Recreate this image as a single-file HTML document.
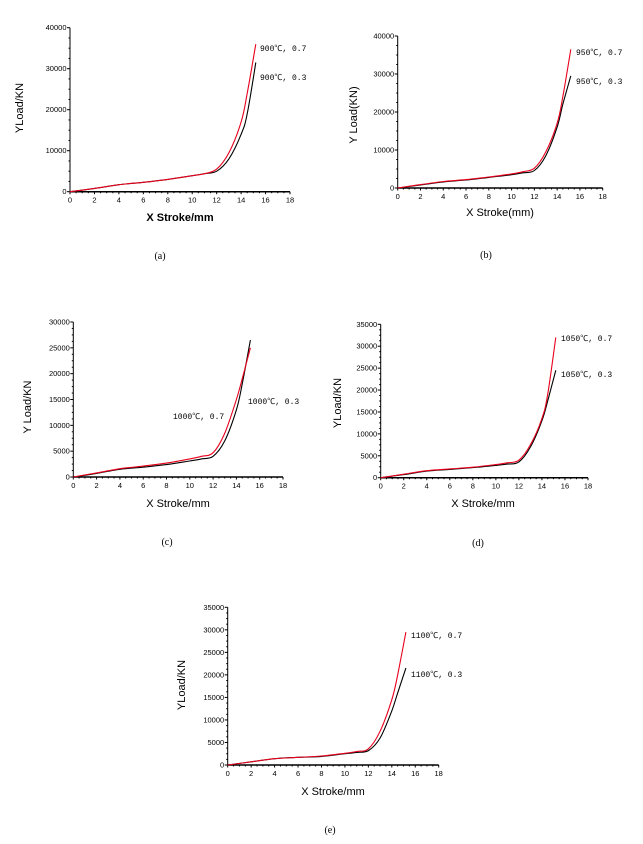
<!DOCTYPE html>
<html><head><meta charset="utf-8"><style>
html,body{margin:0;padding:0;background:#fff;}
svg{display:block;font-family:"Liberation Sans","Noto Sans CJK SC",sans-serif;}
.tk{font-size:7.5px;fill:#000;}
.ti{font-size:11px;fill:#000;}
.lb{font-family:"Liberation Mono","Noto Sans CJK SC",monospace;font-size:8px;fill:#000;}
.cap{font-family:"Liberation Serif",serif;font-size:10px;fill:#000;}
</style></head><body>
<svg id="chart" width="643" height="844" viewBox="0 0 643 844"></svg>
<script>
const xTicks=[0,2,4,6,8,10,12,14,16,18];
const panelIds=["a","b","c","d","e"];
const yMaxes=[40000,40000,30000,35000,35000];
const yStepsArr=[10000,10000,5000,5000,5000];
const temps=["900℃","950℃","1000℃","1050℃","1100℃"];
const strokeX=[0,2,4,6,8,10,11,12,13,14,14.5,15.2];
const redA=[0,800,1700,2300,3000,3900,4400,5500,9500,17000,24000,36000];
const blackA=[0,800,1700,2300,3000,3900,4400,5000,8000,14000,19000,31500];
const redB=[0,900,1700,2200,2900,3700,4300,5200,9500,17000,24000,36500];
const blackB=[0,800,1600,2100,2800,3500,4000,4600,8500,16000,22000,29500];
const redC=[0,800,1600,2100,2700,3500,4000,4700,8500,15000,19000,25000];
const blackC=[0,700,1500,1900,2400,3100,3500,4000,7000,13000,18000,26500];
const redD=[0,800,1600,2000,2400,3000,3400,4000,7500,13500,19000,32000];
const blackD=[0,700,1500,1900,2300,2800,3100,3600,7000,13000,17500,24500];
const redE=[0,700,1400,1700,2000,2600,3000,3600,7500,14500,20000,29500];
const blackE=[0,700,1400,1700,1900,2500,2800,3200,6000,12000,16000,21500];
const redSeries=[redA,redB,redC,redD,redE];
const blackSeries=[blackA,blackB,blackC,blackD,blackE];
const xTitles=["X Stroke/mm","X Stroke(mm)","X Stroke/mm","X Stroke/mm","X Stroke/mm"];
const yTitles=["YLoad/KN","Y Load(KN)","Y Load/KN","YLoad/KN","YLoad/KN"];
const L=[
 {x0:70,x1:290,y0:191.7,yT:27.7,xt:180,xty:221,bold:true,ytx:23,yty:108,cx:160,cy:259,l7:[260,51],l3:[260,80]},
 {x0:397.7,x1:602.7,y0:188,yT:36,xt:500,xty:216,bold:false,ytx:357,yty:115,cx:486,cy:258,l7:[576,55],l3:[576,84]},
 {x0:73.3,x1:283,y0:477,yT:322,xt:178,xty:507,bold:false,ytx:31,yty:407,cx:167,cy:545,l7:[173,419],l3:[248,404]},
 {x0:380.7,x1:588,y0:477.7,yT:324.3,xt:483,xty:507,bold:false,ytx:341,yty:403,cx:478,cy:546,l7:[561,341],l3:[561,377]},
 {x0:227.7,x1:438.7,y0:765,yT:607.3,xt:333,xty:795,bold:false,ytx:185,yty:685,cx:330,cy:833,l7:[411,638],l3:[411,677]}
];
const svg=document.getElementById("chart");
const NS="http://www.w3.org/2000/svg";
function mk(tag,attrs,parent){const e=document.createElementNS(NS,tag);for(const k in attrs)e.setAttribute(k,attrs[k]);parent.appendChild(e);return e;}
function smooth(pts){let d="M"+pts[0][0]+","+pts[0][1];for(let i=0;i<pts.length-1;i++){const p0=pts[Math.max(0,i-1)],p1=pts[i],p2=pts[i+1],p3=pts[Math.min(pts.length-1,i+2)];const c1=[p1[0]+(p2[0]-p0[0])/6,p1[1]+(p2[1]-p0[1])/6],c2=[p2[0]-(p3[0]-p1[0])/6,p2[1]-(p3[1]-p1[1])/6];d+=" C"+c1[0].toFixed(1)+","+c1[1].toFixed(1)+" "+c2[0].toFixed(1)+","+c2[1].toFixed(1)+" "+p2[0].toFixed(1)+","+p2[1].toFixed(1);}return d;}
panelIds.forEach((id,i)=>{
 const g=L[i],ymax=yMaxes[i],step=yStepsArr[i];
 const sx=v=>g.x0+v/18*(g.x1-g.x0);
 const sy=v=>g.y0-v/ymax*(g.y0-g.yT);
 const grp=mk("g",{},svg);
 
 
 const ax=mk("g",{stroke:"#000","stroke-width":1},grp);
 
 
 mk("line",{x1:g.x0,y1:g.y0,x2:g.x1,y2:g.y0,"stroke-width":1.5},ax);
 mk("line",{x1:g.x0,y1:g.y0,x2:g.x0,y2:g.yT},ax);
 for(let v=0;v<=18;v+=0.5){const x=sx(v);const mj=v%2===0;mk("line",{x1:x,y1:g.y0,x2:x,y2:g.y0+(mj?2.5:1.5)},ax);}
 xTicks.forEach(v=>{const t=mk("text",{x:sx(v),y:g.y0+11,"text-anchor":"middle",class:"tk"},grp);t.textContent=v;
  });
 for(let v=0;v<=ymax;v+=step/4){const y=sy(v);const mj=Math.abs(v%step)<1e-6;mk("line",{x1:g.x0,y1:y,x2:g.x0-(mj?3:1.5),y2:y},ax);
  if(mj){const t=mk("text",{x:g.x0-3.5,y:y+2.5,"text-anchor":"end",class:"tk"},grp);t.textContent=v;
   }}
 const xt=mk("text",{x:g.xt,y:g.xty,"text-anchor":"middle",class:"ti","font-weight":g.bold?"bold":"normal"},grp);xt.textContent=xTitles[i];
 
 const yt=mk("text",{x:g.ytx,y:g.yty,"text-anchor":"middle",class:"ti",transform:"rotate(-90 "+g.ytx+" "+g.yty+")"},grp);yt.textContent=yTitles[i];
 
 const bp=mk("path",{d:smooth(strokeX.map((x,k)=>[sx(x),sy(blackSeries[i][k])])),fill:"none",stroke:"#000","stroke-width":1.1},grp);
 
 const rp=mk("path",{d:smooth(strokeX.map((x,k)=>[sx(x),sy(redSeries[i][k])])),fill:"none",stroke:"#e8001c","stroke-width":1.1},grp);
 
 const l7=mk("text",{x:g.l7[0],y:g.l7[1],class:"lb"},grp);l7.textContent=temps[i]+", 0.7";
 
 const l3=mk("text",{x:g.l3[0],y:g.l3[1],class:"lb"},grp);l3.textContent=temps[i]+", 0.3";
 
 const c=mk("text",{x:g.cx,y:g.cy,"text-anchor":"middle",class:"cap"},grp);c.textContent="("+id+")";
 
});
</script>
</body></html>
